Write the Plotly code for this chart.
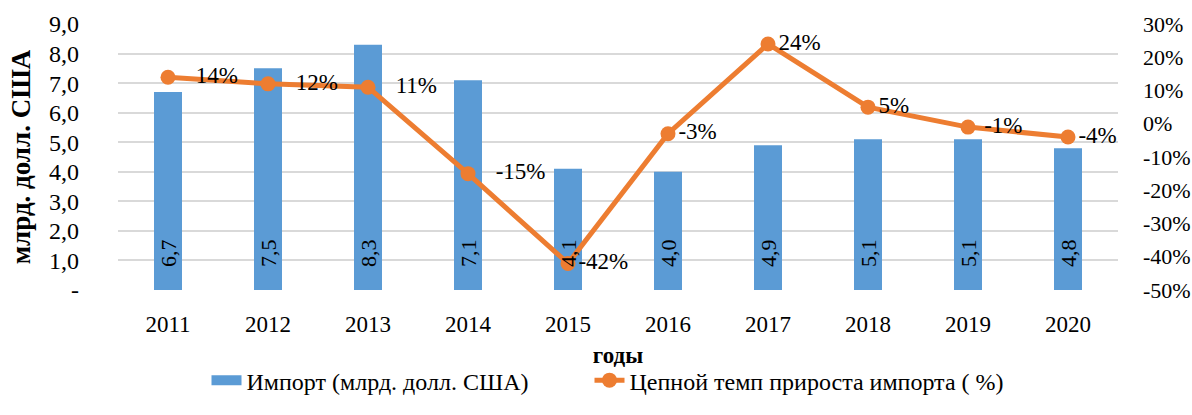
import plotly.graph_objects as go

years = ["2011", "2012", "2013", "2014", "2015", "2016", "2017", "2018", "2019", "2020"]
imports = [6.7, 7.5, 8.3, 7.1, 4.1, 4.0, 4.9, 5.1, 5.1, 4.8]
growth = [0.14, 0.12, 0.11, -0.15, -0.42, -0.03, 0.24, 0.05, -0.01, -0.04]
left_ticks = [0, 1, 2, 3, 4, 5, 6, 7, 8, 9]
left_ticktext = ["-", "1,0", "2,0", "3,0", "4,0", "5,0", "6,0", "7,0", "8,0", "9,0"]
right_ticks = [-0.5, -0.4, -0.3, -0.2, -0.1, 0.0, 0.1, 0.2, 0.3]
right_ticktext = ["-50%", "-40%", "-30%", "-20%", "-10%", "0%", "10%", "20%", "30%"]

# styling: extra spaces before each line label (label placement as in the source)
label_pad = [3, 3, 3, 3, 0, 0, 0, 0, 1, 0]

FONT = "Liberation Serif, Times New Roman, serif"
BLUE = "#5B9BD5"
ORANGE = "#ED7D31"
FS = 23

fig = go.Figure()
fig.add_trace(go.Bar(
    x=years, y=imports, name="Импорт (млрд. долл. США)",
    marker=dict(color=BLUE, line=dict(width=0)),
    showlegend=False,
))
# legend-only entry with a wide rectangular swatch
fig.add_trace(go.Scatter(
    x=[years[0]], y=[None], mode="lines", name="Импорт (млрд. долл. США)",
    line=dict(color=BLUE, width=12), legendwidth=338,
))
fig.add_trace(go.Scatter(
    x=years, y=growth, yaxis="y2", name="Цепной темп прироста импорта ( %)",
    mode="lines+markers+text",
    line=dict(color=ORANGE, width=5),
    marker=dict(color=ORANGE, size=15),
    text=[" " * p + f"{round(v*100):d}%" for v, p in zip(growth, label_pad)],
    textposition="middle right",
    textfont=dict(family=FONT, size=FS, color="black"),
    cliponaxis=False,
))

# rotated value labels at the base of each bar (x = category index on the category axis)
for i, v in enumerate(imports):
    fig.add_annotation(
        x=i, y=0, xref="x", yref="y", text=f"{v:.1f}".replace(".", ","),
        textangle=-90, showarrow=False, yanchor="bottom", xanchor="center",
        yshift=21, font=dict(family=FONT, size=22, color="black"),
    )

fig.update_layout(
    width=1192, height=415,
    margin=dict(l=118, r=74, t=24, b=123),
    paper_bgcolor="white", plot_bgcolor="white",
    font=dict(family=FONT, size=FS, color="black"),
    bargap=0.72,
    showlegend=True,
    legend=dict(orientation="h", x=0.49, xanchor="center", y=-0.425, yanchor="bottom",
                font=dict(family=FONT, size=24), tracegroupgap=0),
    xaxis=dict(
        type="category", range=[-0.5, len(years) - 0.5],
        showgrid=False, showline=False, ticks="", ticklabelstandoff=18, automargin=False,
        tickfont=dict(family=FONT, size=FS),
        title=dict(text="<b>годы</b>", font=dict(family=FONT, size=FS), standoff=10),
    ),
    yaxis=dict(
        range=[0, 9], tickvals=left_ticks, ticktext=left_ticktext,
        showgrid=True, gridcolor="#D9D9D9", gridwidth=2, zeroline=False,
        showline=False, ticks="", ticklabelstandoff=38, automargin=False,
        tickfont=dict(family=FONT, size=24),
        title=dict(text="<b>млрд. долл. США</b>", font=dict(family=FONT, size=27), standoff=10),
    ),
    yaxis2=dict(
        overlaying="y", side="right", range=[-0.5, 0.3],
        tickvals=right_ticks, ticktext=right_ticktext,
        showgrid=False, zeroline=False, showline=False, ticks="",
        ticklabelstandoff=24, automargin=False, tickfont=dict(family=FONT, size=22),
    ),
)

fig.write_html("out.html", config={"displayModeBar": False},
               post_script="document.body.style.margin='0';document.body.style.overflow='hidden';")
